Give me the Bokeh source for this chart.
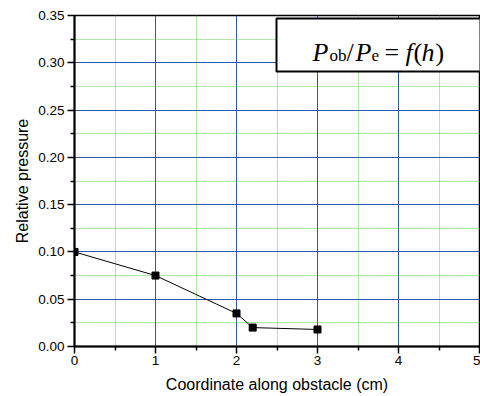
from bokeh.plotting import figure
from bokeh.models import Range1d, FixedTicker, BoxAnnotation, Label
from bokeh.embed import file_html
from bokeh.resources import INLINE

# ---- data ----
coord_cm = [0.0, 1.0, 2.0, 2.2, 3.0]
rel_pressure = [0.100, 0.075, 0.035, 0.020, 0.018]

x_ticks = [0, 1, 2, 3, 4, 5]
x_tick_labels = ["0", "1", "2", "3", "4", "5"]
x_minor = [0.5, 1.5, 2.5, 3.5, 4.5]
y_ticks = [0.0, 0.05, 0.10, 0.15, 0.20, 0.25, 0.30, 0.35]
y_tick_labels = ["0.00", "0.05", "0.10", "0.15", "0.20", "0.25", "0.30", "0.35"]
y_minor = [0.025, 0.075, 0.125, 0.175, 0.225, 0.275, 0.325]

x_title = "Coordinate along obstacle (cm)"
y_title = "Relative pressure"

W, H = 480, 396
BL, BR, BT, BB = 74, 1, 15, 50
XMIN, XMAX, YMIN, YMAX = 0, 5, 0, 0.35

p = figure(width=W, height=H, output_backend="svg", toolbar_location=None,
           x_range=Range1d(XMIN, XMAX), y_range=Range1d(YMIN, YMAX),
           min_border_left=BL, min_border_right=BR, min_border_top=BT,
           min_border_bottom=BB, background_fill_color="white",
           border_fill_color="white")

p.outline_line_color = "black"
p.outline_line_width = 1.5

p.xaxis.ticker = FixedTicker(ticks=x_ticks, minor_ticks=x_minor)
p.yaxis.ticker = FixedTicker(ticks=y_ticks, minor_ticks=y_minor)
p.xaxis.major_label_overrides = {t: l for t, l in zip(x_ticks, x_tick_labels)}
p.yaxis.major_label_overrides = {t: l for t, l in zip(y_ticks, y_tick_labels)}

for ax in (p.xaxis, p.yaxis):
    ax.axis_line_color = "black"
    ax.axis_line_width = 2
    ax.major_tick_line_color = "black"
    ax.major_tick_line_width = 1.5
    ax.minor_tick_line_color = "black"
    ax.minor_tick_line_width = 1.5
    ax.major_tick_in = 0
    ax.major_tick_out = 7
    ax.minor_tick_in = 0
    ax.minor_tick_out = 4
    ax.major_label_text_font = "Liberation Sans"
    ax.major_label_text_font_size = "13.5px"
    ax.major_label_text_color = "black"
    ax.axis_label_text_font = "Liberation Sans"
    ax.axis_label_text_font_size = "16px"
    ax.axis_label_text_font_style = "normal"
    ax.axis_label_text_color = "black"

p.xaxis.axis_label = x_title
p.yaxis.axis_label = y_title
p.xaxis.major_label_standoff = 2
p.yaxis.major_label_standoff = 3
p.xaxis.axis_label_standoff = 8
p.yaxis.axis_label_standoff = 4

for g in (p.xgrid, p.ygrid):
    g.grid_line_color = "#2f55b0"
    g.grid_line_width = 1
    g.grid_line_alpha = 1.0
    g.minor_grid_line_color = "#66cc55"
    g.minor_grid_line_width = 1
    g.minor_grid_line_dash = "1 1"

p.line(coord_cm, rel_pressure, line_color="black", line_width=1)
p.scatter(coord_cm, rel_pressure, marker="square", size=7,
          fill_color="black", line_color="black")

# ---- formula box (placed in pixel terms, converted to data units) ----
FW = W - BL - BR
FH = H - BT - BB


def dx(px):
    return XMIN + (px - BL) / FW * (XMAX - XMIN)


def dy(py):
    return YMAX - (py - BT) / FH * (YMAX - YMIN)


p.add_layout(BoxAnnotation(left=dx(276), right=dx(520), top=dy(18), bottom=dy(71),
                           fill_color="white", fill_alpha=1.0,
                           line_color="black", line_width=2, line_alpha=1.0))

pieces = [
    ("P", 312, 51.5, 26, "italic"),
    ("ob", 329, 55, 17, "normal"),
    ("/", 346, 51.5, 26, "normal"),
    ("P", 355, 51.5, 26, "italic"),
    ("e", 371, 55, 17, "normal"),
    ("=", 384, 51.5, 26, "normal"),
    ("f", 405, 51.5, 26, "italic"),
    ("(", 413, 51.5, 26, "normal"),
    ("h", 421, 51.5, 26, "italic"),
    (")", 435, 51.5, 26, "normal"),
]
for txt, px, py, fs, st in pieces:
    p.add_layout(Label(x=dx(px), y=dy(py), text=txt, text_font="Liberation Serif",
                       text_font_size=f"{fs}px", text_font_style=st,
                       text_color="black", text_align="left",
                       text_baseline="alphabetic"))

open("out.html", "w").write(file_html(p, INLINE))
